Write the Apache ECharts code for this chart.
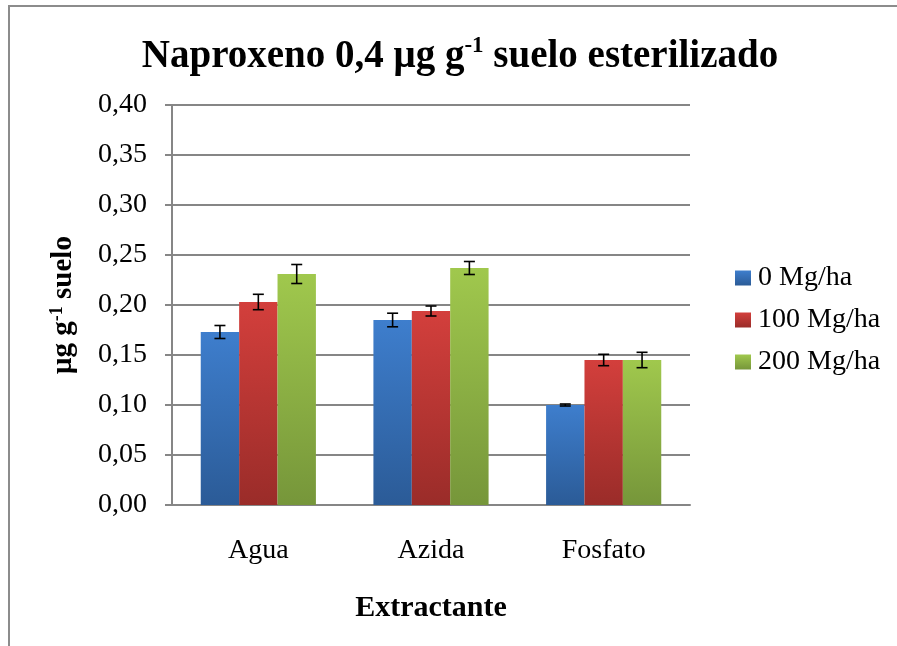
<!DOCTYPE html>
<html>
<head>
<meta charset="utf-8">
<script src="https://cdn.jsdelivr.net/npm/echarts@6/dist/echarts.min.js"></script>
<style>
html,body{margin:0;padding:0;background:#fff;}
#c{width:897px;height:646px;}
</style>
</head>
<body>
<div id="c"></div>
<script>
var categories = ['Agua', 'Azida', 'Fosfato'];
var seriesNames = ['0 Mg/ha', '100 Mg/ha', '200 Mg/ha'];
var values0 = [0.173, 0.185, 0.100];
var values100 = [0.203, 0.194, 0.145];
var values200 = [0.231, 0.237, 0.145];
var err0 = [0.0065, 0.0068, 0.001];
var err100 = [0.0077, 0.005, 0.0057];
var err200 = [0.0095, 0.0065, 0.0077];
var yTicks = [0, 0.05, 0.10, 0.15, 0.20, 0.25, 0.30, 0.35, 0.40];

var FONT = "'Liberation Serif','Times New Roman',serif";
var colors = [
  ['#3E7ECD', '#2B5B97'],
  ['#D33F3C', '#9A2C29'],
  ['#A0C84D', '#76963A']
];
function grad(c) {
  return new echarts.graphic.LinearGradient(0, 0, 0, 1, [
    {offset: 0, color: c[0]}, {offset: 1, color: c[1]}
  ]);
}
var vals = [values0, values100, values200];
var errs = [err0, err100, err200];
var CAT_GAP = 0.333;

var series = [];
vals.forEach(function (v, i) {
  series.push({
    name: seriesNames[i],
    type: 'bar',
    data: v,
    barGap: '0%',
    barCategoryGap: '33.3%',
    itemStyle: {color: grad(colors[i])},
    z: 2
  });
});
vals.forEach(function (v, i) {
  var data = v.map(function (val, k) { return [k, val - errs[i][k], val + errs[i][k]]; });
  series.push({
    type: 'custom',
    name: 'err' + i,
    data: data,
    z: 5,
    silent: true,
    encode: {x: 0, y: [1, 2]},
    renderItem: function (params, api) {
      var k = api.value(0);
      var lo = api.coord([k, api.value(1)]);
      var hi = api.coord([k, api.value(2)]);
      var band = api.size([1, 0])[0];
      var bw = band * (1 - CAT_GAP) / 3;
      var x = lo[0] + (i - 1) * bw;
      var hw = 5.5;
      var st = {stroke: '#000', lineWidth: 1.6};
      return {
        type: 'group',
        children: [
          {type: 'line', shape: {x1: x, y1: lo[1], x2: x, y2: hi[1]}, style: st},
          {type: 'line', shape: {x1: x - hw, y1: lo[1], x2: x + hw, y2: lo[1]}, style: st},
          {type: 'line', shape: {x1: x - hw, y1: hi[1], x2: x + hw, y2: hi[1]}, style: st}
        ]
      };
    }
  });
});

var chart = echarts.init(document.getElementById('c'), null, {renderer: 'canvas'});
chart.setOption({
  animation: false,
  backgroundColor: '#fff',
  textStyle: {fontFamily: FONT},
  graphic: [{
    type: 'rect',
    shape: {x: 9, y: 6, width: 900, height: 660},
    style: {fill: 'none', stroke: '#8c8c8c', lineWidth: 2},
    silent: true
  }],
  title: {
    text: '{b|Naproxeno 0,4 μg g}{s|-1}{b| suelo esterilizado}',
    left: 455,
    textAlign: 'center',
    top: 30,
    textStyle: {
      rich: {
        b: {fontFamily: FONT, fontWeight: 'bold', fontSize: 39, color: '#000', lineHeight: 44},
        s: {fontFamily: FONT, fontWeight: 'bold', fontSize: 23, color: '#000', verticalAlign: 'top', lineHeight: 23}
      }
    }
  },
  legend: {
    orient: 'vertical',
    left: 730,
    top: 259,
    itemWidth: 16,
    itemHeight: 15,
    itemGap: 14,
    icon: 'rect',
    data: seriesNames,
    textStyle: {fontFamily: FONT, fontSize: 28, color: '#000', padding: [0, 0, 0, 2]}
  },
  grid: {left: 172, right: 207, top: 105, bottom: 141, containLabel: false},
  xAxis: {
    type: 'category',
    data: categories,
    name: 'Extractante',
    nameLocation: 'middle',
    nameGap: 88,
    nameTextStyle: {fontFamily: FONT, fontWeight: 'bold', fontSize: 30, color: '#000'},
    axisLine: {lineStyle: {color: '#868686', width: 2}},
    axisTick: {show: false},
    axisLabel: {fontFamily: FONT, fontSize: 28, color: '#000', margin: 32}
  },
  yAxis: {
    type: 'value',
    min: 0,
    max: 0.4,
    interval: 0.05,
    name: '{a|μg g}{s|-1}{a| suelo}',
    nameLocation: 'middle',
    nameGap: 92,
    nameRotate: 90,
    nameTextStyle: {
      rich: {
        a: {fontFamily: FONT, fontWeight: 'bold', fontSize: 29, color: '#000', lineHeight: 32},
        s: {fontFamily: FONT, fontWeight: 'bold', fontSize: 18, color: '#000', verticalAlign: 'top', lineHeight: 18}
      }
    },
    axisLine: {show: true, lineStyle: {color: '#868686', width: 2}},
    axisTick: {show: true, inside: false, length: 7, lineStyle: {color: '#868686', width: 2}},
    splitLine: {show: true, lineStyle: {color: '#868686', width: 2}},
    axisLabel: {
      fontFamily: FONT, fontSize: 28, color: '#000', margin: 25,
      formatter: function (v) {
        var s = yTicks.reduce(function (a, t) { return Math.abs(t - v) < 1e-9 ? t : a; }, v);
        return s.toFixed(2).replace('.', ',');
      }
    }
  },
  series: series
});
</script>
</body>
</html>
